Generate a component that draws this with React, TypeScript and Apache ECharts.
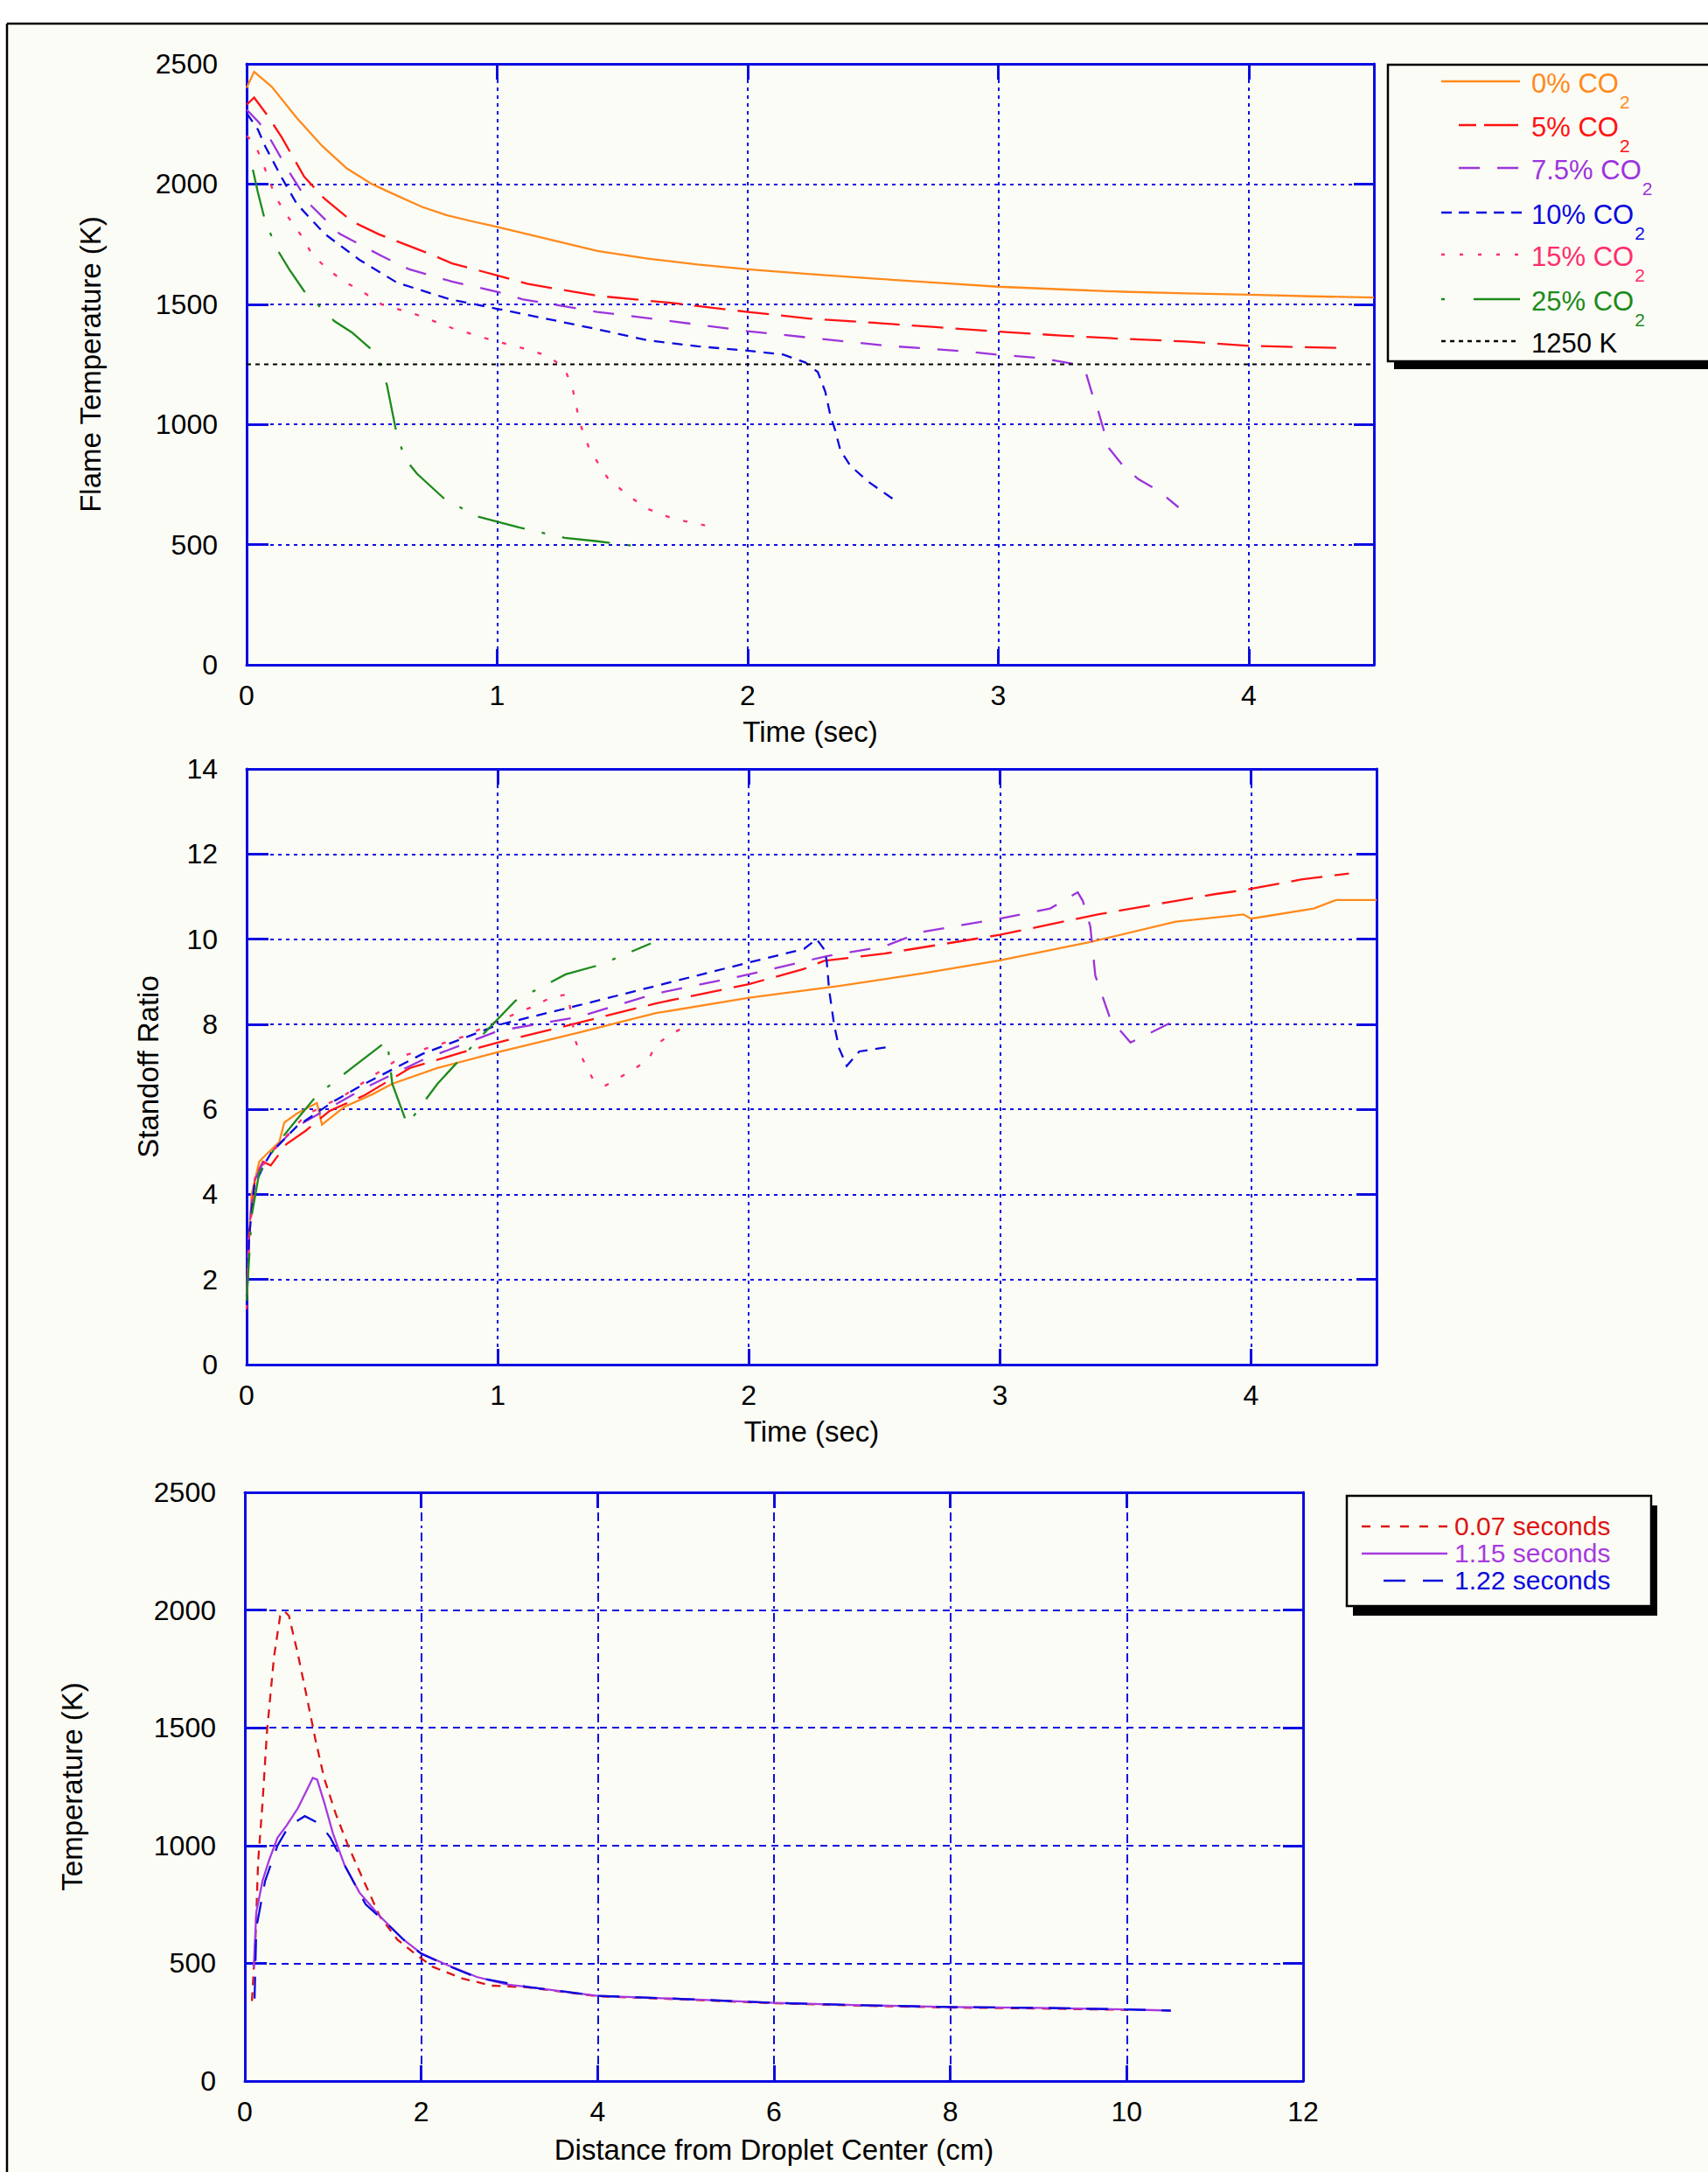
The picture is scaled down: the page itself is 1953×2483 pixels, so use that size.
import React, { useEffect, useRef } from "react";
import * as echarts from "echarts";

// ---------------- data ----------------
// Panel 1: flame temperature (K) vs time (s)
const flameTime0 = [0, 0.03, 0.1, 0.2, 0.3, 0.4, 0.5, 0.6, 0.7, 0.8, 0.9, 1.0, 1.2, 1.4, 1.6, 1.8, 2.0, 2.25, 2.5, 2.75, 3.0, 3.25, 3.5, 3.75, 4.0, 4.25, 4.5];
const flameTemp0 = [2400, 2467, 2405, 2275, 2160, 2065, 2000, 1952, 1905, 1870, 1845, 1822, 1772, 1722, 1690, 1665, 1645, 1625, 1607, 1590, 1573, 1562, 1552, 1545, 1540, 1533, 1528];
const flameTime5 = [0, 0.03, 0.08, 0.14, 0.23, 0.31, 0.42, 0.53, 0.73, 0.82, 1.0, 1.12, 1.4, 1.7, 2.0, 2.25, 2.5, 2.75, 3.0, 3.25, 3.5, 3.75, 4.0, 4.2, 4.38];
const flameTemp5 = [2330, 2360, 2290, 2195, 2030, 1940, 1845, 1790, 1710, 1670, 1620, 1585, 1535, 1505, 1468, 1440, 1423, 1405, 1386, 1370, 1356, 1345, 1327, 1322, 1318];
const flameTime75 = [0, 0.05, 0.09, 0.17, 0.25, 0.37, 0.54, 0.65, 0.82, 1.0, 1.1, 1.4, 1.7, 2.0, 2.3, 2.56, 2.88, 3.0, 3.17, 3.3, 3.35, 3.38, 3.4, 3.42, 3.44, 3.5, 3.56, 3.64, 3.72];
const flameTemp75 = [2310, 2255, 2195, 2050, 1918, 1794, 1700, 1645, 1594, 1552, 1521, 1468, 1429, 1388, 1355, 1327, 1303, 1290, 1276, 1252, 1216, 1110, 1054, 982, 904, 826, 772, 724, 655];
const flameTime10 = [0, 0.045, 0.075, 0.14, 0.2, 0.31, 0.45, 0.6, 0.81, 1.0, 1.12, 1.4, 1.6, 1.8, 2.0, 2.14, 2.23, 2.28, 2.31, 2.33, 2.35, 2.37, 2.41, 2.48, 2.58];
const flameTemp10 = [2295, 2227, 2155, 2027, 1918, 1794, 1685, 1590, 1521, 1481, 1456, 1396, 1350, 1325, 1307, 1291, 1258, 1218, 1136, 1039, 974, 893, 828, 763, 690];
const flameTime15 = [0, 0.03, 0.06, 0.115, 0.17, 0.22, 0.26, 0.32, 0.39, 0.46, 0.54, 0.68, 0.82, 0.99, 1.13, 1.21, 1.27, 1.3, 1.33, 1.37, 1.44, 1.52, 1.6, 1.7, 1.83];
const flameTemp15 = [2200, 2172, 2100, 1947, 1856, 1783, 1710, 1648, 1594, 1554, 1499, 1456, 1401, 1347, 1310, 1281, 1230, 1157, 1006, 893, 779, 706, 649, 609, 580];
const flameTime25 = [0.025, 0.045, 0.07, 0.115, 0.17, 0.23, 0.35, 0.42, 0.52, 0.56, 0.595, 0.63, 0.68, 0.79, 0.92, 1.09, 1.27, 1.4, 1.6];
const flameTemp25 = [2060, 1965, 1863, 1740, 1645, 1554, 1430, 1383, 1292, 1164, 982, 860, 795, 690, 617, 571, 528, 514, 487];
const thresholdTime = [0, 4.5];
const thresholdTemp = [1250, 1250];

// Panel 2: standoff ratio vs time (s)
const standoffTime0 = [0, 0.01, 0.02, 0.05, 0.08, 0.13, 0.15, 0.2, 0.28, 0.3, 0.39, 0.5, 0.58, 0.76, 1.0, 1.32, 1.63, 2.0, 2.36, 2.7, 3.0, 3.36, 3.7, 3.97, 4.0, 4.25, 4.34, 4.5];
const standoffRatio0 = [1.6, 3.0, 4.0, 4.77, 4.95, 5.23, 5.69, 5.9, 6.15, 5.64, 6.06, 6.35, 6.6, 6.97, 7.34, 7.8, 8.26, 8.62, 8.9, 9.2, 9.5, 9.93, 10.41, 10.58, 10.48, 10.72, 10.92, 10.92];
const standoffTime5 = [0, 0.01, 0.034, 0.065, 0.096, 0.158, 0.236, 0.33, 0.47, 0.65, 0.86, 1.0, 1.32, 1.63, 2.0, 2.22, 2.3, 2.54, 3.0, 3.39, 3.86, 3.98, 4.2, 4.39];
const standoffRatio5 = [1.5, 3.0, 4.4, 4.77, 4.68, 5.18, 5.5, 5.96, 6.33, 6.97, 7.34, 7.57, 8.03, 8.49, 8.94, 9.3, 9.49, 9.66, 10.1, 10.58, 11.06, 11.16, 11.4, 11.54];
const standoffTime75 = [0, 0.01, 0.03, 0.07, 0.1, 0.2, 0.35, 0.47, 0.7, 1.0, 1.32, 1.63, 2.0, 2.31, 2.54, 2.69, 3.0, 3.2, 3.31, 3.33, 3.36, 3.38, 3.44, 3.52, 3.6, 3.73];
const standoffRatio75 = [1.6, 3.2, 4.3, 4.8, 5.0, 5.6, 6.1, 6.5, 7.16, 7.84, 8.17, 8.72, 9.17, 9.6, 9.83, 10.17, 10.48, 10.72, 11.1, 10.9, 10.3, 9.14, 8.12, 7.57, 7.8, 8.18];
const standoffTime10 = [0, 0.01, 0.03, 0.07, 0.1, 0.2, 0.35, 0.47, 0.7, 1.0, 1.32, 1.63, 2.0, 2.22, 2.27, 2.3, 2.31, 2.32, 2.34, 2.36, 2.39, 2.44, 2.56];
const standoffRatio10 = [1.4, 3.0, 4.2, 4.7, 5.0, 5.6, 6.2, 6.6, 7.3, 7.98, 8.44, 8.9, 9.45, 9.77, 10.0, 9.76, 9.5, 8.8, 7.98, 7.43, 7.02, 7.36, 7.47];
const standoffTime15 = [0, 0.01, 0.034, 0.1, 0.236, 0.39, 0.62, 0.86, 1.0, 1.13, 1.22, 1.28, 1.31, 1.34, 1.38, 1.43, 1.51, 1.6, 1.63, 1.7, 1.76];
const standoffRatio15 = [1.3, 3.0, 4.4, 5.0, 5.87, 6.33, 7.25, 7.7, 8.07, 8.39, 8.65, 8.7, 7.6, 7.16, 6.7, 6.56, 6.83, 7.16, 7.52, 7.8, 7.98];
const standoffTime25 = [0, 0.02, 0.05, 0.127, 0.19, 0.28, 0.41, 0.56, 0.58, 0.64, 0.76, 0.94, 1.07, 1.27, 1.41, 1.61];
const standoffRatio25 = [1.5, 3.5, 4.5, 5.23, 5.69, 6.33, 6.93, 7.61, 6.6, 5.64, 6.6, 7.75, 8.55, 9.17, 9.4, 9.9];

// Panel 3: temperature (K) vs distance from droplet center (cm)
const profileDist007 = [0.08, 0.12, 0.15, 0.2, 0.25, 0.33, 0.4, 0.45, 0.5, 0.6, 0.7, 0.8, 0.9, 1.03, 1.17, 1.33, 1.53, 1.73, 1.93, 2.13, 2.47, 2.8, 3.2, 4, 5, 6, 7, 8, 9, 10];
const profileTemp007 = [340, 600, 930, 1180, 1480, 1800, 1975, 1995, 1975, 1815, 1635, 1450, 1285, 1135, 1000, 865, 700, 600, 540, 485, 435, 405, 398, 360, 346, 330, 320, 312, 308, 302];
const profileDist115 = [0.1, 0.13, 0.2, 0.27, 0.37, 0.47, 0.6, 0.7, 0.77, 0.82, 0.9, 1.0, 1.13, 1.3, 1.53, 1.8, 2.0, 2.3, 2.63, 2.97, 3.2, 4, 5, 6, 7, 8, 9, 10, 10.5];
const profileTemp115 = [480, 717, 850, 933, 1033, 1083, 1158, 1233, 1287, 1280, 1183, 1050, 917, 800, 700, 600, 542, 492, 442, 410, 400, 362, 348, 332, 322, 314, 311, 304, 299];
const profileDist122 = [0.11, 0.13, 0.23, 0.37, 0.5, 0.68, 0.85, 0.97, 1.13, 1.37, 1.57, 1.8, 2.0, 2.3, 2.63, 3.2, 4, 5, 6, 7, 8, 9, 10, 10.5];
const profileTemp122 = [350, 650, 850, 1000, 1083, 1125, 1092, 1033, 917, 750, 683, 600, 540, 490, 440, 400, 362, 348, 332, 322, 314, 311, 304, 299];

// axis ranges
const timeRange = { min: 0, max: 4.5, interval: 1 };
const flameTempRange = { min: 0, max: 2500, interval: 500 };
const standoffRange = { min: 0, max: 14, interval: 2 };
const distRange = { min: 0, max: 12, interval: 2 };

// legend labels
const flameLegend = ["0% CO", "5% CO", "7.5% CO", "10% CO", "15% CO", "25% CO", "1250 K"];
const profileLegend = ["0.07 seconds", "1.15 seconds", "1.22 seconds"];

// ---------------- styles ----------------
const FONT = "Liberation Sans";
const AX = "#0c0ce2";
const BG = "#fcfcf6";
const COL = {
  orange: "#ff8a1c",
  red: "#ff1212",
  purple: "#9c34dc",
  blue: "#0a0ade",
  pink: "#ff2d6c",
  green: "#1c8a1c",
  black: "#000000",
};
const COL3 = { red: "#dc1414", purple: "#a63ae0", blue: "#0a0ade" };

const DASH: Record<string, any> = {
  orange: "solid",
  red: [36, 14],
  purple: [24, 20],
  blue: [12, 9],
  pink: [5, 16],
  green: [55, 20, 4, 20],
  black: [5, 5],
};

function pairs(xs: number[], ys: number[]) {
  return xs.map((x, i) => [x, ys[i]]);
}

function lineSeries(name: string, xs: number[], ys: number[], color: string, dash: any, panel: number, width = 2.3) {
  return {
    type: "line",
    name,
    data: pairs(xs, ys),
    xAxisIndex: panel * 2,
    yAxisIndex: panel * 2,
    showSymbol: false,
    symbol: "none",
    silent: true,
    animation: false,
    lineStyle: { color, width, type: dash, cap: "butt", join: "miter" },
    emphasis: { disabled: true },
    z: 3,
  };
}

function panelAxes(
  gridIndex: number,
  xr: any,
  yr: any,
  xName: string,
  yName: string,
  xNameGap: number,
  yNameGap: number,
  xGridDash: any,
  yGridDash: any
) {
  const axisLine = { show: true, onZero: false, lineStyle: { color: AX, width: 3 } };
  const labelStyle = { color: "#000", fontSize: 32, fontFamily: FONT };
  const nameStyle = { color: "#000", fontSize: 33, fontFamily: FONT };
  const intFmt = (v: number) => (Math.abs(v - Math.round(v)) < 1e-9 ? String(Math.round(v)) : "");
  const xBottom = {
    type: "value",
    gridIndex,
    position: "bottom",
    ...xr,
    axisLine,
    axisTick: { show: true, inside: true, length: 18, lineStyle: { color: AX, width: 3 } },
    axisLabel: { ...labelStyle, margin: 19, formatter: intFmt },
    splitLine: { show: true, lineStyle: { color: AX, width: 2, type: xGridDash } },
    name: xName,
    nameLocation: "middle",
    nameGap: xNameGap,
    nameTextStyle: nameStyle,
  };
  const xTop = {
    type: "value",
    gridIndex,
    position: "top",
    ...xr,
    axisLine,
    axisTick: { show: true, inside: true, length: 18, lineStyle: { color: AX, width: 3 } },
    axisLabel: { show: false },
    splitLine: { show: false },
  };
  const yLeft = {
    type: "value",
    gridIndex,
    position: "left",
    ...yr,
    axisLine,
    axisTick: { show: true, inside: true, length: 25, lineStyle: { color: AX, width: 3 } },
    axisLabel: { ...labelStyle, margin: 33, formatter: (v: number) => String(v) },
    splitLine: { show: true, lineStyle: { color: AX, width: 2, type: yGridDash } },
    name: yName,
    nameLocation: "middle",
    nameGap: yNameGap,
    nameTextStyle: nameStyle,
  };
  const yRight = {
    type: "value",
    gridIndex,
    position: "right",
    ...yr,
    axisLine,
    axisTick: { show: true, inside: true, length: 23, lineStyle: { color: AX, width: 3 } },
    axisLabel: { show: false },
    splitLine: { show: false },
  };
  return { x: [xBottom, xTop], y: [yLeft, yRight] };
}

function measure(text: string, size: number) {
  const ctx = document.createElement("canvas").getContext("2d");
  if (!ctx) return text.length * size * 0.55;
  ctx.font = `${size}px "${FONT}"`;
  return ctx.measureText(text).width;
}

function buildGraphics() {
  const g: any[] = [];
  // outer frame (white margins + black edges)
  g.push({ type: "rect", silent: true, z: 50, shape: { x: 0, y: 0, width: 1953, height: 27 }, style: { fill: "#ffffff" } });
  g.push({ type: "rect", silent: true, z: 50, shape: { x: 0, y: 0, width: 8, height: 2483 }, style: { fill: "#ffffff" } });
  g.push({ type: "line", silent: true, z: 51, shape: { x1: 8, y1: 27, x2: 1953, y2: 27 }, style: { stroke: "#000", lineWidth: 2.5 } });
  g.push({ type: "line", silent: true, z: 51, shape: { x1: 8, y1: 27, x2: 8, y2: 2483 }, style: { stroke: "#000", lineWidth: 2.5 } });

  // ---- legend of panel 1 ----
  g.push({ type: "rect", silent: true, z: 100, shape: { x: 1594, y: 83, width: 420, height: 339 }, style: { fill: "#000" } });
  g.push({ type: "rect", silent: true, z: 101, shape: { x: 1587, y: 74, width: 420, height: 339 }, style: { fill: BG, stroke: "#000", lineWidth: 2.5 } });
  const rowsY = [93, 143, 192, 243, 291, 342, 390];
  const keys = ["orange", "red", "purple", "blue", "pink", "green", "black"];
  const sampleX: [number, number][] = [
    [1648, 1738],
    [1668, 1736],
    [1668, 1736],
    [1648, 1742],
    [1648, 1738],
    [1648, 1738],
    [1648, 1738],
  ];
  const legendDash: any[] = [null, [20, 9, 40, 9], [24, 20], [12, 8], [4, 17], [4, 33, 60, 10], [5, 5]];
  const textX = 1751;
  flameLegend.forEach((label, i) => {
    const key = keys[i];
    const color = (COL as any)[key];
    const style: any = { stroke: color, lineWidth: 2.5 };
    if (legendDash[i]) style.lineDash = legendDash[i];
    g.push({
      type: "line",
      silent: true,
      z: 102,
      shape: { x1: sampleX[i][0], y1: rowsY[i], x2: sampleX[i][1], y2: rowsY[i] },
      style,
    });
    g.push({
      type: "text",
      silent: true,
      z: 102,
      x: textX,
      y: rowsY[i] + 2,
      style: { text: label, fill: color, fontSize: 31, fontFamily: FONT, align: "left", verticalAlign: "middle" },
    });
    if (key !== "black") {
      const w = measure(label, 31);
      g.push({
        type: "text",
        silent: true,
        z: 102,
        x: textX + w + 1,
        y: rowsY[i] + 23,
        style: { text: "2", fill: color, fontSize: 21, fontFamily: FONT, align: "left", verticalAlign: "middle" },
      });
    }
  });

  // ---- legend of panel 3 ----
  g.push({ type: "rect", silent: true, z: 100, shape: { x: 1547, y: 1721, width: 348, height: 126 }, style: { fill: "#000" } });
  g.push({ type: "rect", silent: true, z: 101, shape: { x: 1540, y: 1710, width: 348, height: 126 }, style: { fill: BG, stroke: "#000", lineWidth: 2.5 } });
  const rows3 = [1745, 1776, 1807];
  const cols3 = [COL3.red, COL3.purple, COL3.blue];
  const samp3: [number, number][] = [
    [1557, 1655],
    [1557, 1655],
    [1582, 1650],
  ];
  const dash3: any[] = [[10, 12], null, [25, 20]];
  profileLegend.forEach((label, i) => {
    const style: any = { stroke: cols3[i], lineWidth: 2.5 };
    if (dash3[i]) style.lineDash = dash3[i];
    g.push({ type: "line", silent: true, z: 102, shape: { x1: samp3[i][0], y1: rows3[i], x2: samp3[i][1], y2: rows3[i] }, style });
    g.push({
      type: "text",
      silent: true,
      z: 102,
      x: 1663,
      y: rows3[i] - 1,
      style: { text: label, fill: cols3[i], fontSize: 30, fontFamily: FONT, align: "left", verticalAlign: "middle" },
    });
  });
  return g;
}

export default function App() {
  const ref = useRef<HTMLDivElement>(null);
  useEffect(() => {
    if (!ref.current) return;
    const chart = echarts.init(ref.current, null, { renderer: "svg", width: 1953, height: 2483 });

    const p1 = panelAxes(0, timeRange, flameTempRange, "Time (sec)", "Flame Temperature (K)", 60, 162, [4, 5], [4, 5]);
    const p2 = panelAxes(1, timeRange, standoffRange, "Time (sec)", "Standoff Ratio", 60, 96, [4, 5], [4, 5]);
    const p3 = panelAxes(2, distRange, flameTempRange, "Distance from Droplet Center (cm)", "Temperature (K)", 62, 181, [10, 5, 3, 5], [8, 6]);

    const series: any[] = [
      lineSeries("0% CO2", flameTime0, flameTemp0, COL.orange, DASH.orange, 0),
      lineSeries("5% CO2", flameTime5, flameTemp5, COL.red, DASH.red, 0),
      lineSeries("7.5% CO2", flameTime75, flameTemp75, COL.purple, DASH.purple, 0),
      lineSeries("10% CO2", flameTime10, flameTemp10, COL.blue, DASH.blue, 0),
      lineSeries("15% CO2", flameTime15, flameTemp15, COL.pink, DASH.pink, 0),
      lineSeries("25% CO2", flameTime25, flameTemp25, COL.green, DASH.green, 0),
      lineSeries("1250 K", thresholdTime, thresholdTemp, COL.black, DASH.black, 0, 2.2),

      lineSeries("0% CO2 ratio", standoffTime0, standoffRatio0, COL.orange, DASH.orange, 1),
      lineSeries("5% CO2 ratio", standoffTime5, standoffRatio5, COL.red, DASH.red, 1),
      lineSeries("7.5% CO2 ratio", standoffTime75, standoffRatio75, COL.purple, DASH.purple, 1),
      lineSeries("10% CO2 ratio", standoffTime10, standoffRatio10, COL.blue, DASH.blue, 1),
      lineSeries("15% CO2 ratio", standoffTime15, standoffRatio15, COL.pink, DASH.pink, 1),
      lineSeries("25% CO2 ratio", standoffTime25, standoffRatio25, COL.green, DASH.green, 1),

      lineSeries("0.07 seconds", profileDist007, profileTemp007, COL3.red, [10, 8], 2),
      lineSeries("1.15 seconds", profileDist115, profileTemp115, COL3.purple, "solid", 2),
      lineSeries("1.22 seconds", profileDist122, profileTemp122, COL3.blue, [25, 18], 2),
    ];

    const option: any = {
      animation: false,
      backgroundColor: BG,
      textStyle: { fontFamily: FONT },
      grid: [
        { left: 282, top: 73, width: 1289, height: 687, outerBoundsMode: "none", containLabel: false },
        { left: 282, top: 879, width: 1292, height: 681, outerBoundsMode: "none", containLabel: false },
        { left: 280, top: 1706, width: 1210, height: 673, outerBoundsMode: "none", containLabel: false },
      ],
      xAxis: [...p1.x, ...p2.x, ...p3.x],
      yAxis: [...p1.y, ...p2.y, ...p3.y],
      series,
      graphic: { elements: buildGraphics() },
    };
    chart.setOption(option);
    return () => chart.dispose();
  }, []);
  return <div ref={ref} style={{ position: "absolute", left: 0, top: 0, width: 1953, height: 2483 }} />;
}
